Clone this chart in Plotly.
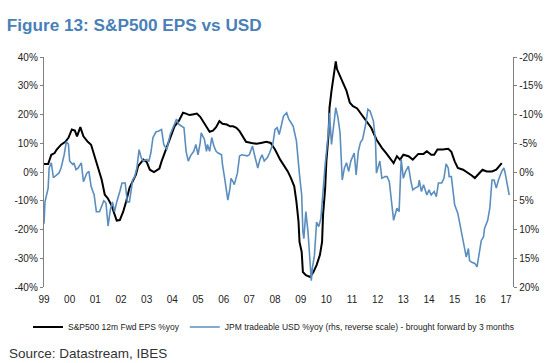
import plotly.graph_objects as go

# S&P500 12m forward EPS %yoy (left axis)
eps_dates = ["1999-01-01","1999-03-01","1999-04-15","1999-06-01","1999-07-01","1999-09-01","1999-11-01","1999-12-15",
"2000-02-01","2000-03-15","2000-04-15","2000-06-01","2000-07-15","2000-09-15","2000-11-01","2000-12-15",
"2001-02-15","2001-04-01","2001-05-15","2001-07-01","2001-08-15","2001-10-01","2001-11-01","2001-12-15",
"2002-02-01","2002-03-15","2002-05-01","2002-06-15","2002-08-01","2002-09-01","2002-11-15",
"2003-01-01","2003-02-15","2003-04-15","2003-07-01","2003-08-01","2003-09-15","2003-11-01","2003-12-15",
"2004-02-01","2004-04-01","2004-06-01","2004-07-15","2004-09-01","2004-10-15","2004-12-15",
"2005-02-01","2005-03-15","2005-05-01","2005-06-15","2005-08-01","2005-09-15","2005-11-01","2005-12-15",
"2006-02-15","2006-04-01","2006-05-15","2006-07-01","2006-08-15","2006-10-01","2006-11-15",
"2007-02-01","2007-04-15","2007-06-15","2007-09-01","2007-11-01",
"2008-01-01","2008-03-15","2008-05-15","2008-07-01","2008-08-15","2008-10-01","2008-11-01","2008-12-01","2008-12-15",
"2009-01-15","2009-02-01","2009-03-15","2009-05-15","2009-07-01","2009-08-15","2009-10-01","2009-11-01","2009-11-15","2009-12-15",
"2010-01-01","2010-02-01","2010-02-15","2010-03-15","2010-04-15","2010-05-15","2010-06-01","2010-07-15","2010-09-01","2010-10-15","2010-12-01",
"2011-01-15","2011-03-15","2011-05-15","2011-08-01","2011-10-01","2011-12-15",
"2012-03-01","2012-05-01","2012-08-15","2012-10-01","2012-11-15",
"2013-01-01","2013-03-15","2013-05-15","2013-08-01","2013-10-15","2013-12-01",
"2014-02-01","2014-03-15","2014-05-01","2014-07-15","2014-10-01","2014-11-15",
"2015-01-01","2015-02-15","2015-05-01","2015-07-15","2015-09-01","2015-10-15","2015-12-01",
"2016-02-01","2016-04-01","2016-06-15","2016-08-15","2016-10-01","2016-11-01"]
eps_yoy = [2.8,2.8,6.0,6.6,7.8,9.5,10.5,11.9,
14.8,14.4,12.4,15.6,12.4,10.5,9.5,6.0,
1.4,-2.7,-7.9,-9.3,-11.4,-14.9,-16.9,-16.7,
-13.8,-10.3,-5.6,-3.3,-0.9,2.0,4.3,
3.5,0.8,0.0,1.2,3.7,6.6,10.1,13.0,
15.9,17.7,20.6,20.3,19.8,20.0,20.3,
19.2,17.7,15.9,14.0,14.4,15.6,17.7,16.8,
16.5,15.9,15.9,15.4,14.2,12.4,10.5,
10.1,9.8,10.1,10.5,10.1,
7.8,4.3,2.0,0.2,-2.1,-5.0,-10.3,-17.3,-24.3,
-27.8,-34.8,-35.9,-36.5,-34.8,-32.4,-28.9,-24.3,-14.9,-5.6,
3.7,13.0,22.4,28.2,34.0,38.5,35.8,33.4,31.1,28.2,24.1,
22.9,22.1,20.0,17.7,15.4,11.3,
8.4,6.6,3.1,5.5,4.3,
6.0,5.5,4.3,6.3,6.3,7.2,
6.0,6.0,7.8,7.8,8.1,7.0,
3.7,1.4,0.8,-0.3,-1.2,-2.1,-0.9,
0.8,0.2,0.2,0.8,2.0,3.1]

# JPM tradeable USD %yoy, brought forward by 3 months (right axis, reversed)
usd_dates = ["1999-01-01","1999-01-15","1999-03-01","1999-03-15","1999-04-15","1999-05-15","1999-07-01","1999-08-01","1999-09-01","1999-10-15","1999-11-15","1999-12-15",
"2000-01-01","2000-02-15","2000-03-01","2000-04-01","2000-05-01","2000-06-15","2000-07-15","2000-09-01","2000-10-01","2000-11-01","2000-12-15",
"2001-01-15","2001-03-01","2001-04-01","2001-05-01","2001-06-01","2001-07-01","2001-08-01","2001-09-01","2001-10-01","2001-11-01","2001-12-15",
"2002-01-15","2002-03-01","2002-04-01","2002-05-01","2002-06-15","2002-07-15","2002-08-15","2002-09-15","2002-10-15","2002-11-15",
"2003-01-01","2003-02-01","2003-03-01","2003-04-01","2003-05-15","2003-06-15","2003-08-01","2003-09-01","2003-10-15","2003-12-01",
"2004-01-15","2004-03-01","2004-04-01","2004-05-15","2004-06-15","2004-07-15","2004-08-15","2004-09-15","2004-11-01","2004-12-01",
"2005-01-01","2005-02-01","2005-02-15","2005-04-01","2005-05-01","2005-05-15","2005-06-15","2005-07-15","2005-08-15","2005-09-15","2005-10-15","2005-12-01","2005-12-15",
"2006-01-15","2006-02-15","2006-03-01","2006-04-01","2006-04-15","2006-05-15","2006-06-01","2006-07-15","2006-08-15","2006-09-15","2006-11-01","2006-12-01",
"2007-01-01","2007-02-15","2007-03-15","2007-05-01","2007-06-01","2007-07-01","2007-08-01","2007-09-15","2007-10-15","2007-12-01",
"2008-01-01","2008-02-01","2008-03-01","2008-04-01","2008-05-01","2008-06-15","2008-07-15","2008-08-15","2008-09-15","2008-11-01","2008-11-15","2008-12-15",
"2009-01-15","2009-02-01","2009-02-15","2009-03-15","2009-04-15","2009-05-15","2009-06-01","2009-06-15","2009-07-15","2009-08-15","2009-09-15","2009-10-15","2009-11-15","2009-12-15",
"2010-02-01","2010-02-15","2010-03-15","2010-04-15","2010-05-15","2010-06-15","2010-07-15","2010-08-15","2010-09-15","2010-10-15","2010-11-15","2010-12-15",
"2011-02-01","2011-03-01","2011-04-01","2011-05-01","2011-06-01","2011-07-15","2011-08-15","2011-09-15","2011-11-01","2011-12-01","2011-12-15",
"2012-02-01","2012-03-01","2012-04-15","2012-05-15","2012-06-15","2012-07-15","2012-08-15","2012-10-01","2012-11-01","2012-12-01",
"2013-01-01","2013-02-01","2013-03-15","2013-04-15","2013-05-15","2013-06-15","2013-08-01","2013-08-15","2013-09-15","2013-10-15","2013-12-01",
"2014-01-01","2014-02-01","2014-03-15","2014-04-15","2014-05-15","2014-07-01","2014-08-01","2014-09-01","2014-10-01","2014-10-15","2014-11-15","2014-12-01",
"2015-01-01","2015-02-15","2015-03-15","2015-04-15","2015-05-15","2015-06-15","2015-07-15","2015-08-01","2015-09-01","2015-10-15","2015-11-15","2015-12-15",
"2016-01-15","2016-02-15","2016-03-01","2016-04-15","2016-05-15","2016-06-15","2016-07-15","2016-08-15","2016-09-15","2016-11-01","2016-12-01","2016-12-15",
"2017-01-15","2017-02-15"]
usd_yoy = [9.0,5.2,2.8,-0.7,-1.6,1.0,0.5,0.2,-0.7,-3.0,-5.3,-4.8,
-1.9,-1.3,-1.6,-0.4,-0.7,-1.6,1.7,0.2,-0.1,2.5,4.0,
6.9,6.9,6.0,5.0,5.4,9.4,6.6,5.2,6.9,5.2,3.4,
1.9,1.9,5.2,5.2,1.4,0.8,-0.7,-3.9,-2.5,-1.9,
-2.2,-1.9,-3.3,-6.0,-7.0,-7.1,-7.4,-4.8,-3.9,-6.5,
-8.0,-9.2,-8.3,-8.0,-7.7,-3.6,-1.9,-2.8,-3.6,-4.8,
-3.0,-5.1,-6.8,-5.7,-3.6,-4.8,-3.6,-6.0,-4.5,-3.6,-3.3,-3.0,-1.3,
1.1,3.4,4.9,2.8,1.1,1.7,2.2,0.2,-2.8,-3.0,-2.8,-2.8,
-3.0,-4.5,-3.0,-0.7,-2.2,-3.0,-1.9,-2.5,-3.3,-4.8,
-7.4,-7.7,-6.5,-8.0,-9.7,-10.3,-9.2,-8.6,-8.0,-5.4,-3.0,0.5,
4.0,10.4,11.6,6.9,10.4,15.7,18.9,16.8,14.5,8.7,9.5,8.1,2.8,-1.3,
-7.1,-10.3,-4.8,-8.3,-11.2,-9.5,-6.8,1.4,-0.7,-1.6,-0.1,-1.9,
-3.3,0.5,-3.6,-5.1,-5.7,-8.3,-10.9,-10.6,-8.9,-5.4,0.2,
-1.9,1.1,0.8,0.8,1.7,5.2,8.4,6.3,6.9,-2.2,
1.1,-0.1,-1.0,1.4,3.1,2.8,2.5,1.4,3.4,2.2,4.0,
3.1,4.0,3.4,4.3,1.9,1.9,1.1,-1.4,-0.7,0.8,0.8,2.2,
5.7,7.2,8.9,11.3,13.0,14.8,13.3,15.4,15.7,15.9,16.5,14.2,
11.9,11.3,9.8,8.4,6.3,1.4,1.4,2.8,1.4,-0.1,-0.7,-0.1,
2.2,4.0]

left_ticks = [40, 30, 20, 10, 0, -10, -20, -30, -40]
left_labels = ["40%", "30%", "20%", "10%", "0%", "-10%", "-20%", "-30%", "-40%"]
right_ticks = [-20, -15, -10, -5, 0, 5, 10, 15, 20]
right_labels = ["-20%", "-15%", "-10%", "-5%", "0%", "5%", "10%", "15%", "20%"]

title_text = "Figure 13: S&P500 EPS vs USD"
source_text = "Source: Datastream, IBES"
eps_name = "S&P500 12m Fwd EPS %yoy"
usd_name = "JPM tradeable USD %yoy (rhs, reverse scale) - brought forward by 3 months"

AX = "#808080"
FONT = "Liberation Sans, Arial, sans-serif"
x_range = ["1999-01-01", "2017-04-10"]

fig = go.Figure()
fig.add_trace(go.Scatter(x=eps_dates, y=eps_yoy, name=eps_name, mode="lines",
                         line=dict(color="#000000", width=2), yaxis="y"))
fig.add_trace(go.Scatter(x=usd_dates, y=usd_yoy, name=usd_name, mode="lines",
                         line=dict(color="#5B8EBE", width=1.6), yaxis="y2"))

fig.update_layout(
    width=556, height=363,
    margin=dict(l=44, r=43, t=57, b=76),
    paper_bgcolor="white", plot_bgcolor="white",
    font=dict(family=FONT, size=10, color="#222222"),
    title=dict(text="<b>" + title_text + "</b>", x=0.012, xanchor="left",
               y=1 - 25 / 363, yanchor="middle", yref="container",
               font=dict(family=FONT, size=17.2, color="#4A80B8")),
    showlegend=True,
    legend=dict(orientation="h", x=(28 - 44) / 469, xanchor="left", y=(287 - 327) / 230,
                yanchor="middle",
                font=dict(family=FONT, size=8.5, color="#222222"),
                itemwidth=30, tracegroupgap=0, bgcolor="rgba(0,0,0,0)"),
    xaxis=dict(type="date", range=x_range, showgrid=False, zeroline=False, showline=False,
               ticks="", tickformat="%y", dtick="M12", tick0="1999-01-01",
               tickfont=dict(family=FONT, size=10, color="#222222"), ticklabelstandoff=5),
    xaxis2=dict(type="date", range=x_range, overlaying="x", anchor="free", position=0.5,
                showgrid=False, zeroline=False, showline=True, linecolor=AX, linewidth=1.6,
                ticks="outside", ticklen=3, tickcolor=AX, tickwidth=1, dtick="M12",
                tick0="1999-01-01", showticklabels=False),
    yaxis=dict(range=[-40, 40], tickvals=left_ticks, ticktext=left_labels, showgrid=False,
               zeroline=False, showline=True, linecolor=AX, linewidth=1.4, ticks="outside",
               ticklen=3, tickcolor=AX, tickfont=dict(family=FONT, size=10, color="#222222")),
    yaxis2=dict(range=[20, -20], overlaying="y", side="right", tickvals=right_ticks,
                ticktext=right_labels, showgrid=False, zeroline=False, showline=True,
                linecolor=AX, linewidth=1.4, ticks="outside", ticklen=3, tickcolor=AX,
                tickfont=dict(family=FONT, size=10, color="#222222")),
    annotations=[dict(text=source_text, xref="paper", yref="paper",
                      x=(7 - 44) / 469, y=(287 - 353) / 230, xanchor="left", yanchor="middle",
                      showarrow=False, font=dict(family=FONT, size=13.5, color="#333333"))],
)

fig.write_html("out.html", config={"displayModeBar": False},
               post_script="document.body.style.margin='0';")
